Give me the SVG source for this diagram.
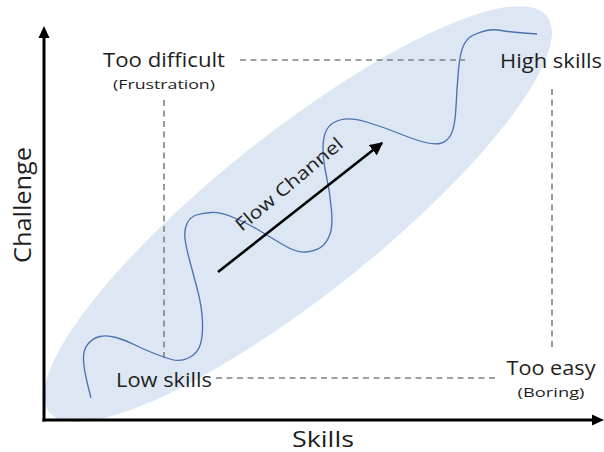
<svg xmlns="http://www.w3.org/2000/svg" width="604" height="452" viewBox="0 0 604 452">
<style>
.lbl{font-family:"Open Sans","Noto Sans","Liberation Sans",sans-serif;fill:#1e1e1e}
.big{font-size:20px}
.sub{font-size:13.5px}
.dash{stroke:#808080;stroke-width:1.6;stroke-dasharray:6 4.5;fill:none}
.axis{stroke:#000;stroke-width:3;fill:none}
</style>
<defs>
<marker id="ah" viewBox="0 0 10 10" refX="9" refY="5" markerWidth="4" markerHeight="4" orient="auto" markerUnits="strokeWidth">
<path d="M0,0 L10,5 L0,10 Z" fill="#000"/>
</marker>
<marker id="ah2" viewBox="0 0 10 10" refX="9" refY="5" markerWidth="5" markerHeight="5" orient="auto" markerUnits="strokeWidth">
<path d="M0,0 L10,5 L0,10 Z" fill="#000"/>
</marker>
</defs>
<rect width="604" height="452" fill="#fff"/>
<g id="channel">
<ellipse cx="298" cy="214" rx="318" ry="81" transform="rotate(-38.5 298 214)" fill="#dce7f3"/>
</g>
<g id="connectors">
<line class="dash" x1="240" y1="60" x2="465" y2="60"/>
<line class="dash" x1="164" y1="100" x2="164" y2="362"/>
<line class="dash" x1="216" y1="378" x2="496" y2="378"/>
<line class="dash" x1="552" y1="89" x2="552" y2="348"/>
<path d="M91,398 L87.5,384 Q84,370 83.5,360 Q83,350 88,344 Q93,338 100,336.5 Q107,335 116,337.5 Q125,340 134,344.5 Q143,349 153,353 Q163,357 171.5,359.5 Q180,362 188.5,358 Q197,354 200,345.5 Q203,337 202.5,322 Q202,307 197.5,290 Q193,273 189.5,260 Q186,247 185,238.5 Q184,230 187,223.5 Q190,217 196.5,215 Q203,213 211.5,212.5 Q220,212 233.5,217.5 Q247,223 258.5,230 Q270,237 283.5,245 Q297,253 306,252 Q315,251 320.5,247.5 Q326,244 329.5,235.5 Q333,227 331.5,210 Q330,193 326.5,176.5 Q323,160 323,148.5 Q323,137 326.5,130 Q330,123 340,120 Q350,117 366.5,122 Q383,127 396.5,132.5 Q410,138 421.5,141.5 Q433,145 440,143.5 Q447,142 451,134.5 Q455,127 456,107 Q457,87 458.5,70 Q460,53 463.5,45.5 Q467,38 473.5,35 Q480,32 486.5,30.5 Q493,29 501.5,30.5 Q510,32 523.5,33 L537,34" fill="none" stroke="#4a6fad" stroke-width="1.3"/>
<line x1="218" y1="272" x2="382" y2="143" stroke="#000" stroke-width="2.6" marker-end="url(#ah2)"/>
<line class="axis" x1="44" y1="421.5" x2="44" y2="30"/>
<path d="M44,26 L38.5,38 L49.5,38 Z" fill="#000"/>
<line class="axis" x1="42.5" y1="420" x2="594" y2="420"/>
<path d="M604,420 L592,414.5 L592,425.5 Z" fill="#000"/>
</g>
<g id="flow-label">
<text class="lbl" font-size="18" text-anchor="middle" textLength="134" lengthAdjust="spacingAndGlyphs" transform="translate(293,189) rotate(-40)">Flow Channel</text>
</g>
<g id="too-difficult">
<text class="lbl big" x="164" y="67" text-anchor="middle" textLength="122" lengthAdjust="spacingAndGlyphs">Too difficult</text>
<text class="lbl sub" x="164" y="89" text-anchor="middle" textLength="102" lengthAdjust="spacingAndGlyphs">(Frustration)</text>
</g>
<g id="high-skills">
<text class="lbl big" x="551" y="68" text-anchor="middle" textLength="102" lengthAdjust="spacingAndGlyphs">High skills</text>
</g>
<g id="low-skills">
<text class="lbl big" x="164" y="387" text-anchor="middle" textLength="96" lengthAdjust="spacingAndGlyphs">Low skills</text>
</g>
<g id="too-easy">
<text class="lbl big" x="551" y="375" text-anchor="middle" textLength="89" lengthAdjust="spacingAndGlyphs">Too easy</text>
<text class="lbl sub" x="551" y="397" text-anchor="middle" textLength="67" lengthAdjust="spacingAndGlyphs">(Boring)</text>
</g>
<g id="x-label">
<text class="lbl" font-size="22" x="323" y="447" text-anchor="middle" textLength="62" lengthAdjust="spacingAndGlyphs">Skills</text>
</g>
<g id="y-label">
<text class="lbl" font-size="23" text-anchor="middle" textLength="116" lengthAdjust="spacingAndGlyphs" transform="translate(31,205) rotate(-90)">Challenge</text>
</g>
</svg>
